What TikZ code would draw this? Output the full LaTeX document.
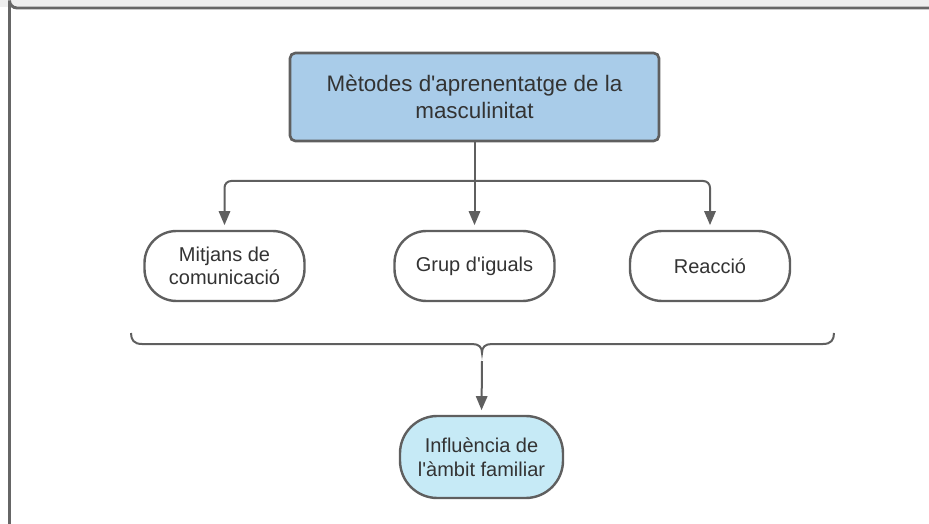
\documentclass[tikz,border=0pt]{standalone}
\usepackage{fontspec}
\setmainfont{Liberation Sans}
\usetikzlibrary{arrows.meta}
\definecolor{linegray}{HTML}{5F5F5F}
\definecolor{framegray}{HTML}{666666}
\definecolor{textgray}{HTML}{333333}
\definecolor{topblue}{HTML}{A9CCE9}
\definecolor{famblue}{HTML}{C6EAF6}
\definecolor{stripgray}{HTML}{EEEEEE}
\tikzset{
  mainbox/.style={draw=linegray, line width=2pt, fill=topblue, rounded corners=4pt,
    minimum width=276.75pt, minimum height=66pt, align=center, text=textgray,
    font=\fontsize{16.8}{20.7}\selectfont, inner sep=0pt},
  pill/.style={draw=linegray, line width=1.8pt, fill=white, rounded corners=24pt,
    minimum width=120pt, minimum height=52.5pt, align=center, text=textgray,
    font=\fontsize{15}{17.6}\selectfont, inner sep=0pt},
  fampill/.style={pill, fill=famblue, rounded corners=28pt, minimum width=122.25pt, minimum height=61.5pt},
  conn/.style={draw=linegray, line width=1.5pt},
  arr/.style={conn, -{Triangle[length=10.5pt,width=8.5pt]}, shorten >=3.5pt},
}
\begin{document}
\begin{tikzpicture}[x=0.75pt, y=-0.75pt]
\useasboundingbox (0,0) rectangle (929,524);
\fill[stripgray] (0,0) rectangle (929,7);
\draw[framegray, line width=2.2pt] (935,8) -- (17,8) arc[start angle=90, end angle=180, radius=7.5] -- (9.5,530);

\node[mainbox] (top) at (474.5,97) {Mètodes d\textquotesingle aprenentatge de la\\masculinitat};
\node[pill] (n1) at (224.5,266) {Mitjans de\\comunicació};
\node[pill] (n2) at (474.5,266) {Grup d\textquotesingle iguals};
\node[pill] (n3) at (710,266) {Reacció};
\node[fampill] (fam) at (481.5,457) {Influència de\\l\textquotesingle àmbit familiar};

\coordinate (j) at (474.5,181);
\draw[conn] (top.south) -- (j);
\draw[arr, rounded corners=5pt] (j) -| (n1.north);
\draw[arr, rounded corners=5pt] (j) -| (n3.north);
\draw[arr] (j) -- (n2.north);

\draw[conn] (131,333) .. controls (131,340) and (134,344) .. (142,344) -- (472,344)
  .. controls (479,344) and (482,347) .. (482,353) coordinate (bt)
  .. controls (482,347) and (485,344) .. (492,344) -- (823,344)
  .. controls (831,344) and (834,340) .. (834,333);
\coordinate (bs) at (482,361);
\draw[arr] (bs) -- (fam.north);
\end{tikzpicture}
\end{document}
